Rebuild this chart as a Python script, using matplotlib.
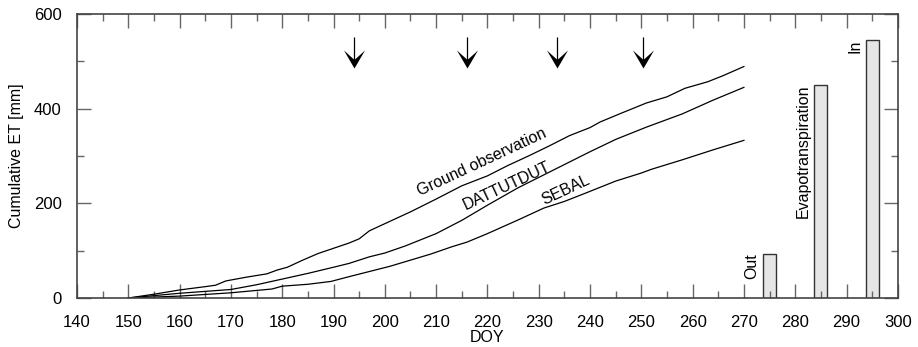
import matplotlib
matplotlib.use("Agg")
import matplotlib.pyplot as plt
from matplotlib.path import Path
from matplotlib.ticker import MultipleLocator

plt.rcParams['font.family'] = ['Liberation Sans', 'DejaVu Sans']

# cumulative ET curves (DOY, mm)
ground_doy = [150, 155, 160, 165, 167, 169, 173, 177, 179, 181, 184, 187, 190, 193, 195,
              197, 200, 205, 210, 215, 220, 224, 228, 232, 236, 240, 242, 246, 251, 255,
              258.5, 263, 266, 270]
ground_et = [0, 8, 17, 24, 27, 36, 44, 51, 59, 65, 80, 94, 105, 116, 125,
             142, 157, 182, 209, 237, 258, 280, 300, 321, 343, 360, 372, 390, 412, 425,
             443, 457, 470, 489]

dattu_doy = [150, 160, 170, 175, 180, 185, 190, 193, 197, 200, 204, 210, 215, 220,
             226, 233, 240, 245, 251, 258, 264, 270]
dattu_et = [0, 10, 18, 28, 40, 52, 65, 73, 87, 95, 110, 136, 164, 196,
            233, 271, 309, 335, 361, 389, 418, 445]

sebal_doy = [150, 160, 170, 178, 180, 185, 189.5, 193, 197, 201, 205, 209, 213, 216,
             220, 226, 231, 235, 239, 245, 250, 252, 258, 264, 270]
sebal_et = [0, 4, 11, 19, 25, 29, 35, 45, 56, 67, 80, 93, 108, 118,
            136, 165, 190, 204, 221, 247, 264, 272, 292, 313, 333]

# water balance bars
bar_doy = [275, 285, 295]
bar_val = [94, 450, 546]
bar_names = ['Out', 'Evapotranspiration', 'In']

# arrows marking image dates
arrow_doy = [193.9, 216, 233.5, 250.4]
arrow_top = 551
arrow_tip = 486

fs = 11.5
fig = plt.figure(figsize=(9.18, 3.47), dpi=100)
ax = fig.add_axes([0.0839, 0.1412, 0.8941, 0.8185])

ax.plot(ground_doy, ground_et, color='black', lw=0.9)
ax.plot(dattu_doy, dattu_et, color='black', lw=0.9)
ax.plot(sebal_doy, sebal_et, color='black', lw=0.9)

bw = 2.5
ax.bar(bar_doy, bar_val, width=bw, color='#e6e6e6', edgecolor='#333333', lw=1.0)
for d, v, name in zip(bar_doy, bar_val, bar_names):
    ax.text(d - bw / 2 - 0.7, v, name, rotation=90, ha='right', va='top', fontsize=fs)

# notched arrow head, tip at the marker origin
head = Path([(0, 0), (-10.5, 18), (0, 8.5), (10.5, 18), (0, 0)],
            [Path.MOVETO, Path.LINETO, Path.LINETO, Path.LINETO, Path.CLOSEPOLY])
ax.vlines(arrow_doy, arrow_tip + 8, arrow_top, color='black', lw=0.9)
ax.plot(arrow_doy, [arrow_tip] * len(arrow_doy), ls='none', marker=head,
        markersize=26, color='black', markeredgewidth=0)

ax.text(218.9, 287, 'Ground observation', rotation=25, ha='center', va='center',
        rotation_mode='anchor', fontsize=fs)
ax.text(223.8, 236, 'DATTUTDUT', rotation=25, ha='center', va='center',
        rotation_mode='anchor', fontsize=fs)
ax.text(235.3, 228, 'SEBAL', rotation=25, ha='center', va='center',
        rotation_mode='anchor', fontsize=fs)

ax.set_xlim(140, 300)
ax.set_ylim(0, 600)
ax.xaxis.set_major_locator(MultipleLocator(10))
ax.xaxis.set_minor_locator(MultipleLocator(5))
ax.yaxis.set_major_locator(MultipleLocator(200))
ax.yaxis.set_minor_locator(MultipleLocator(100))
ax.tick_params(which='both', direction='in', top=True, right=True,
               color='#666666', width=1.0, labelsize=12)
ax.tick_params(which='major', length=10)
ax.tick_params(which='minor', length=5)
ax.tick_params(axis='x', which='major', pad=12)
ax.tick_params(axis='y', which='major', pad=11)
for s in ax.spines.values():
    s.set_color('#444444')
    s.set_linewidth(1.2)

ax.set_xlabel('DOY', fontsize=fs, labelpad=0)
ax.set_ylabel('Cumulative ET [mm]', fontsize=fs, labelpad=7)

fig.savefig('out.png', dpi=100)
